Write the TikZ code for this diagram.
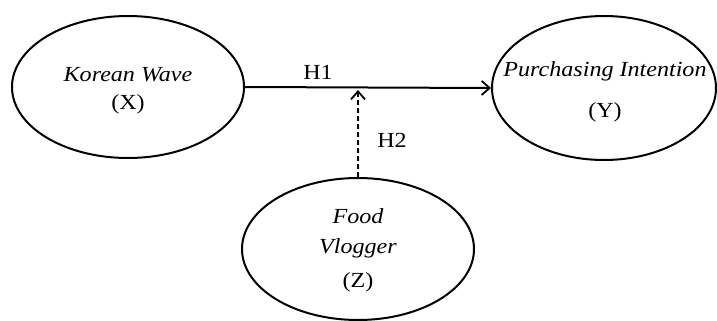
\documentclass[tikz,border=0pt]{standalone}
\usepackage{fontspec}
\setmainfont{Liberation Serif}
\usetikzlibrary{shapes.geometric,arrows.meta}
\newcommand{\wtxt}[1]{\scalebox{1.12}[1]{#1}}
\begin{document}
\begin{tikzpicture}[x=1pt,y=-1pt,
  oval/.style={draw,ellipse,line width=2pt,inner sep=0pt,minimum width=232pt,minimum height=142pt},
  lbl/.style={inner sep=0pt,font=\fontsize{21.5}{24}\selectfont},
  conn/.style={line width=2pt,-{Straight Barb[length=8pt,width=14pt,line width=1.8pt]}}]
\useasboundingbox (0,0) rectangle (717,321);
\node[oval] (X) at (128,87) {};
\node[oval,minimum width=224pt,minimum height=144pt] (Y) at (604,88) {};
\node[oval] (Z) at (358,249) {};
\node[lbl] (xt) at (128,75) {\wtxt{\textit{Korean Wave}}};
\node[lbl] (xs) at (128,104) {\wtxt{(X)}};
\node[lbl] (yt) at (605,71) {\wtxt{\textit{Purchasing Intention}}};
\node[lbl] (ys) at (605,112) {\wtxt{(Y)}};
\node[lbl] (zt) at (358,216) {\wtxt{\textit{Food}}};
\node[lbl] (zu) at (358,248) {\wtxt{\textit{Vlogger}}};
\node[lbl] (zs) at (358,282) {\wtxt{(Z)}};
\node[lbl] (h1) at (318,72) {\wtxt{H1}};
\node[lbl] (h2) at (392,140) {\wtxt{H2}};
\coordinate (m) at (358,90);
\draw[conn] (X.east) -- (Y.west);
\draw[conn,dashed,dash pattern=on 5pt off 3pt] (Z.north) -- (m);
\end{tikzpicture}
\end{document}
